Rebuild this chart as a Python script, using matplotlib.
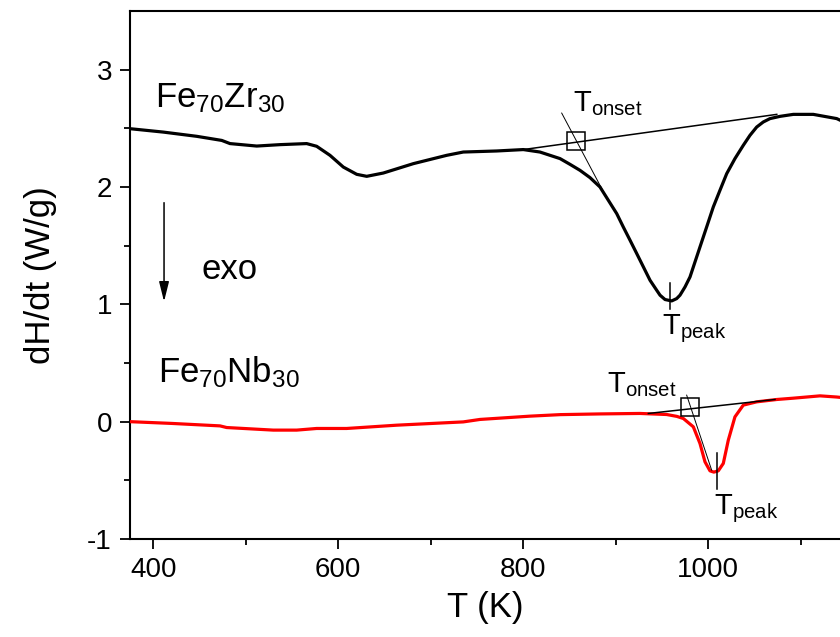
import numpy as np
import matplotlib
matplotlib.use('Agg')
import matplotlib.pyplot as plt

plt.rcParams['font.family'] = ['Liberation Sans', 'DejaVu Sans']
plt.rcParams['mathtext.fontset'] = 'custom'
plt.rcParams['mathtext.rm'] = 'Liberation Sans'
plt.rcParams['mathtext.it'] = 'Liberation Sans:italic'
plt.rcParams['mathtext.bf'] = 'Liberation Sans:bold'
plt.rcParams['axes.unicode_minus'] = False

# Fe70Zr30 DSC trace (T in K, dH/dt in W/g)
T_zr = [374.8, 410.8, 446.9, 474.0, 482.9, 511.8, 537.0, 565.8, 576.6, 591.0,
        605.4, 619.9, 630.7, 648.6, 681.1, 717.2, 735.1, 771.2, 800.0, 818.0,
        839.7, 850.5, 861.3, 872.1, 882.9, 891.9, 901.0, 908.1, 915.4, 922.6,
        929.8, 937.0, 944.2, 947.8, 953.2, 960.4, 965.8, 969.4, 974.8, 980.2,
        985.6, 991.0, 998.2, 1005.4, 1012.6, 1019.9, 1028.8, 1037.8, 1045.0, 1052.3,
        1059.4, 1066.7, 1077.5, 1091.9, 1113.5, 1138.8, 1145.0]
H_zr = [2.497, 2.468, 2.432, 2.397, 2.370, 2.349, 2.361, 2.370, 2.347, 2.270,
        2.170, 2.108, 2.091, 2.119, 2.199, 2.270, 2.298, 2.307, 2.319, 2.298,
        2.242, 2.193, 2.142, 2.080, 2.000, 1.887, 1.773, 1.659, 1.546, 1.433,
        1.319, 1.205, 1.120, 1.078, 1.041, 1.029, 1.049, 1.078, 1.148, 1.233,
        1.361, 1.489, 1.659, 1.830, 1.972, 2.114, 2.242, 2.355, 2.440, 2.511,
        2.554, 2.583, 2.602, 2.619, 2.619, 2.583, 2.560]

# Fe70Nb30 DSC trace
T_nb = [374.8, 420.0, 472.1, 479.3, 529.7, 555.0, 576.6, 609.0, 663.1, 735.1,
        753.2, 807.2, 840.0, 883.0, 926.1, 955.0, 966.0, 973.0, 983.8, 991.0,
        996.4, 1001.8, 1006.0, 1010.8, 1016.2, 1021.6, 1028.8, 1037.8, 1052.3, 1074.0,
        1091.6, 1120.8, 1138.8, 1145.0]
H_nb = [0.000, -0.015, -0.036, -0.050, -0.072, -0.072, -0.058, -0.058, -0.030, -0.002,
        0.019, 0.047, 0.060, 0.066, 0.070, 0.061, 0.045, 0.027, -0.044, -0.186,
        -0.342, -0.419, -0.430, -0.419, -0.356, -0.158, 0.041, 0.141, 0.169, 0.189,
        0.200, 0.220, 0.210, 0.205]

# construction lines: baseline, tangent, onset point, peak position
zr_base_T = [800.0, 1074.0]
zr_base_H = [2.319, 2.619]
zr_tan_T = [841.5, 884.8]
zr_tan_H = [2.630, 1.986]
zr_onset = (856.6, 2.389)
zr_peak_T = 958.6
zr_peak_H = [0.964, 1.182]

nb_base_T = [935.2, 1072.1]
nb_base_H = [0.070, 0.189]
nb_tan_T = [976.6, 1003.6]
nb_tan_H = [0.226, -0.413]
nb_onset = (980.0, 0.125)
nb_peak_T = 1009.7
nb_peak_H = [-0.57, -0.27]

fig = plt.figure(figsize=(8.4, 6.37), dpi=100)
ax = fig.add_axes([130/840, 98/637, 710.4/840, 528/637])

ax.plot(T_zr, H_zr, color='black', lw=2.3, solid_joinstyle='round', zorder=3)
ax.plot(T_nb, H_nb, color='red', lw=2.3, solid_joinstyle='round', zorder=3)

for bT, bH, tT, tH, on, pT, pH in [(zr_base_T, zr_base_H, zr_tan_T, zr_tan_H, zr_onset, zr_peak_T, zr_peak_H),
                                    (nb_base_T, nb_base_H, nb_tan_T, nb_tan_H, nb_onset, nb_peak_T, nb_peak_H)]:
    ax.plot(bT, bH, color='black', lw=1.1, zorder=4)
    ax.plot(tT, tH, color='black', lw=0.7, zorder=4)
    ax.plot([on[0]], [on[1]], marker='s', ms=13, mfc='none', mec='black', mew=1.1, zorder=5)
    ax.plot([pT, pT], pH, color='black', lw=1.1, zorder=4)

ax.text(401.8, 2.68, r'Fe$_{\mathrm{70}}$Zr$_{\mathrm{30}}$', fontsize=25)
ax.text(405.0, 0.339, r'Fe$_{\mathrm{70}}$Nb$_{\mathrm{30}}$', fontsize=25)
ax.text(452.0, 1.22, 'exo', fontsize=25)
ax.text(854.0, 2.647, r'T$_{\mathrm{onset}}$', fontsize=21)
ax.text(949.6, 0.745, r'T$_{\mathrm{peak}}$', fontsize=21)
ax.text(890.1, 0.254, r'T$_{\mathrm{onset}}$', fontsize=21)
ax.text(1006.1, -0.79, r'T$_{\mathrm{peak}}$', fontsize=21)

ax.annotate('', xy=(411.6, 1.0), xytext=(411.6, 1.89),
            arrowprops=dict(arrowstyle='-|>,head_length=0.8,head_width=0.2',
                            mutation_scale=15, color='black', lw=1.1))

ax.set_xlim(374.8, 1142.8)
ax.set_ylim(-1, 3.5)
ax.set_xticks([400, 600, 800, 1000])
ax.set_xticks([500, 700, 900, 1100], minor=True)
ax.set_yticks([-1, 0, 1, 2, 3])
ax.set_yticks([-0.5, 0.5, 1.5, 2.5], minor=True)
ax.tick_params(which='both', direction='out', width=1.3, labelsize=20)
ax.tick_params(which='major', length=7, pad=6)
ax.tick_params(which='minor', length=4)
ax.spines['right'].set_visible(False)
for s in ['left', 'bottom', 'top']:
    ax.spines[s].set_linewidth(1.5)

ax.set_xlabel('T (K)', fontsize=25, labelpad=6)
ax.set_ylabel('dH/dt (W/g)', fontsize=25, labelpad=22)

fig.savefig('out.png', dpi=100)
